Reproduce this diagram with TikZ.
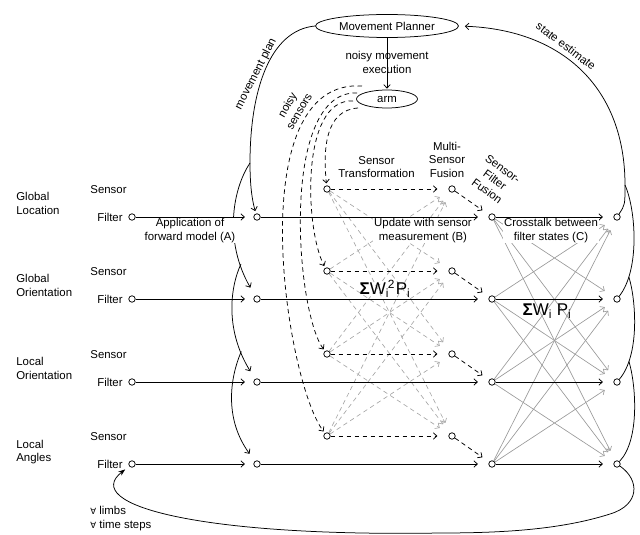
\documentclass[tikz,border=0pt]{standalone}
\usepackage{fontspec}
\setmainfont{Liberation Sans}
\newfontfamily\symfont{DejaVu Sans}
\usetikzlibrary{arrows.meta,shapes.geometric}

\begin{document}
\begin{tikzpicture}[x=1pt,y=-1pt,line width=0.75pt,
  font=\fontsize{11.4}{13.5}\selectfont,
  lbl/.style={inner sep=1pt,align=center},
  dot/.style={circle,draw,fill=white,minimum size=6.5pt,inner sep=0pt,line width=0.75pt},
  tip/.style={-{Straight Barb[length=3.5pt,width=6.5pt]}},
  sdash/.style={dash pattern=on 4.5pt off 3.5pt},
  xgray/.style={draw=black!40,line width=0.65pt,tip,shorten >=11pt},
  sgray/.style={draw=black!35,line width=0.65pt,sdash,tip,shorten >=11pt},
  oval/.style={ellipse,draw,inner sep=0pt,line width=0.75pt}]
\useasboundingbox (0,0) rectangle (640,535);

% planner and arm
\node[oval,minimum width=143pt,minimum height=23pt] (planner) at (387,26) {Movement Planner};
\node[oval,minimum width=61pt,minimum height=18pt] (arm) at (387,99) {arm};

% grid of state nodes: filter rows and sensor rows
\foreach \i/\y in {1/217,2/299,3/382,4/464}{
  \node[dot] (f\i) at (132,\y) {};
  \node[dot] (p\i) at (257,\y) {};
  \node[dot] (u\i) at (492,\y) {};
  \node[dot] (r\i) at (617,\y) {};
  \node[dot] (s\i) at (327,\y-28) {};
  \node[dot] (m\i) at (452,\y-28) {};
  \node[lbl,anchor=east] at (124,\y) {Filter};
  \node[lbl] at (108.5,\y-27.5) {Sensor};
}

% cross terms between sensors and between filters
\foreach \i in {1,...,4}{\foreach \j in {1,...,4}{%
  \ifnum\i=\j\relax\else
    \draw[sgray] (s\i) -- (m\j);
    \draw[xgray] (u\i) -- (r\j);
  \fi}}

% main flow along each row
\foreach \i in {1,...,4}{
  \draw[tip,shorten >=8.5pt] (f\i) -- (p\i);
  \draw[tip,shorten >=10.5pt] (p\i) -- (u\i);
  \draw[tip,shorten >=10.5pt] (u\i) -- (r\i);
  \draw[sdash,tip,shorten >=11pt] (s\i) -- (m\i);
  \draw[sdash,tip,shorten >=8pt] (m\i) -- (u\i);
}

% planner to arm
\draw[tip,shorten >=1pt] (planner) -- (arm);
\node[lbl] at (387,62.5) {noisy movement\\execution};

% noisy sensor readings from the arm
\coordinate (a1) at (358,108);
\coordinate (a2) at (353,101);
\coordinate (a3) at (357,93);
\coordinate (a4) at (362,86);
\draw[sdash,tip,shorten >=2pt] (a1) .. controls (325,110) and (323,150) .. (s1);
\draw[sdash,tip,shorten >=2pt] (a2) .. controls (300,98) and (305,230) .. (s2);
\draw[sdash,tip,shorten >=2pt] (a3) .. controls (280,90) and (295,310) .. (s3);
\draw[sdash,tip,shorten >=2pt] (a4) .. controls (240,78) and (285,380) .. (s4);
\node[lbl,rotate=60] at (293,108) {noisy\\sensors};

% movement plan fanning out to the filters
\coordinate (J1) at (250,163);
\draw[tip,shorten >=2.5pt] (planner.west) .. controls (270,30) and (250,90) .. (J1)
  .. controls (250,185) and (252,200) .. (p1);
\draw[tip,shorten >=9.5pt] (J1) .. controls (232,190) and (224,242) .. (p2) coordinate[pos=0.8] (J2);
\draw[tip,shorten >=9pt] (J2) .. controls (229,290) and (226,332) .. (p3) coordinate[pos=0.8] (J3);
\draw[tip,shorten >=9pt] (J3) .. controls (229,380) and (225,420) .. (p4);
\node[lbl,rotate=63] at (256,74) {movement plan};

% state estimates gathered back to the planner
\coordinate (K1) at (625,185);
\draw[tip,shorten >=6pt] (K1) .. controls (625,90) and (565,30) .. (planner.east);
\node[lbl,rotate=-37] at (566,46) {state estimate};
\draw (r1) .. controls (625,205) .. (K1);
\draw (r2) .. controls (640,270) and (636,210) .. (K1) coordinate[pos=0.2] (K2);
\draw (r3) .. controls (640,355) and (636,300) .. (K2) coordinate[pos=0.2] (K3);
\draw (r4) .. controls (640,440) and (636,385) .. (K3);

% loop to the next time step
\draw[-{Stealth[length=7pt,width=5pt]},shorten >=5pt] (r4) .. controls (640,480) and (640,505) .. (610,514)
  .. controls (560,530) and (500,533) .. (440,533)
  .. controls (200,537) and (80,505) .. (f4);

% row names
\node[lbl,anchor=west,align=left] at (15,203.5) {Global\\Location};
\node[lbl,anchor=west,align=left] at (15,285.5) {Global\\Orientation};
\node[lbl,anchor=west,align=left] at (15,368.5) {Local\\Orientation};
\node[lbl,anchor=west,align=left] at (15,452) {Local\\Angles};

% stage labels
\node[lbl,fill=white,inner ysep=0pt] at (190,230.5) {Application of\\forward model (A)};
\node[lbl,fill=white,inner ysep=0pt] at (423,230.5) {Update with sensor\\measurement (B)};
\node[lbl,fill=white,inner ysep=0pt] at (551,230.5) {Crosstalk between\\filter states (C)};
\node[lbl] at (376.5,167) {Sensor\\Transformation};
\node[lbl] at (447,159.5) {Multi-\\Sensor\\Fusion};
\node[lbl,rotate=-36] at (495,180) {Sensor-\\Filter\\Fusion};

% weighted sums
\node[inner sep=0pt] at (385,289) {\fontsize{17}{17}\selectfont\textbf{Σ}W\rlap{\textsuperscript{\,2}}\textsubscript{i}\hspace{2pt} P\textsubscript{i}};
\node[inner sep=0pt] at (547,311) {\fontsize{17}{17}\selectfont\textbf{Σ}W\textsubscript{i} P\textsubscript{i}};

% quantifiers
\node[lbl,anchor=west,align=left] at (89,518.5) {{\symfont\fontsize{8.5}{8.5}\selectfont ∀} limbs\\{\symfont\fontsize{8.5}{8.5}\selectfont ∀} time steps};
\end{tikzpicture}
\end{document}
